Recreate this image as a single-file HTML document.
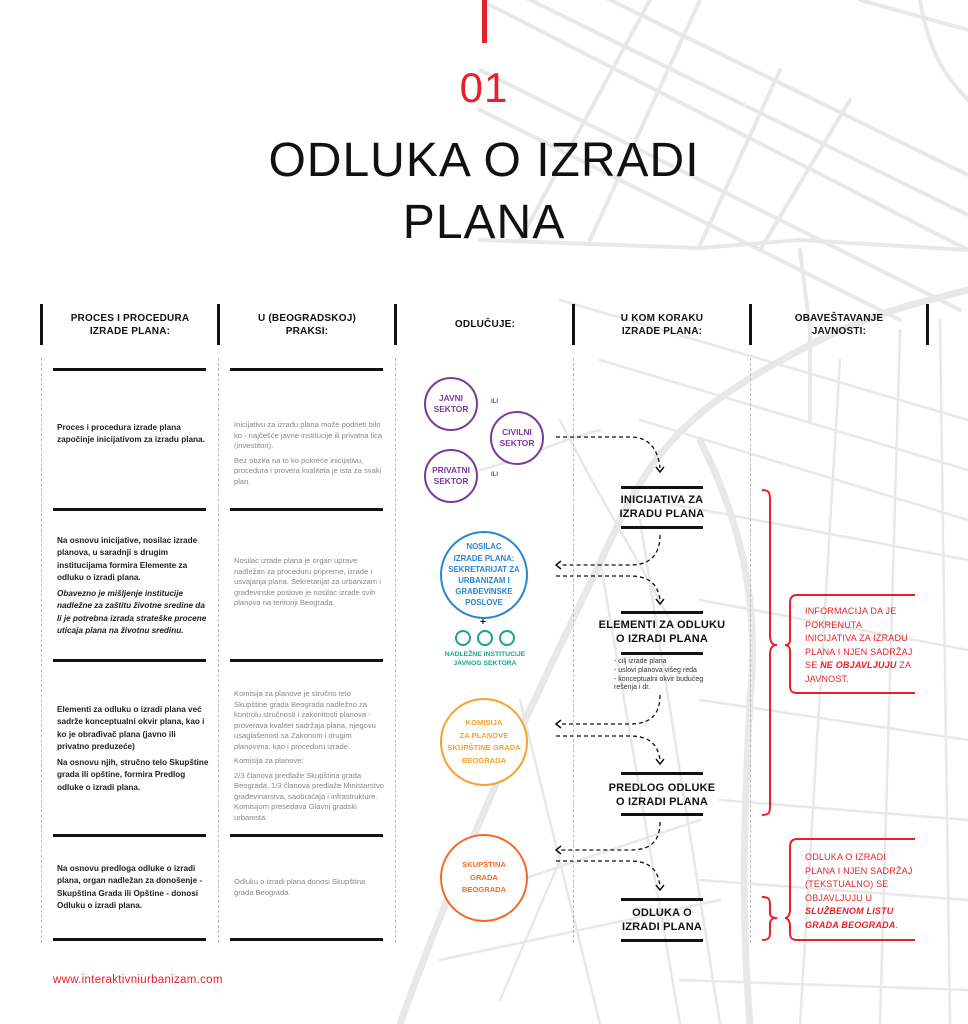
<!DOCTYPE html>
<html><head><meta charset="utf-8"><style>
*{margin:0;padding:0;box-sizing:border-box}
body{width:968px;height:1024px;position:relative;background:#fff;font-family:"Liberation Sans",sans-serif;overflow:hidden;color:#111}
.a{position:absolute}
.hd{position:absolute;font-size:10px;font-weight:bold;text-align:center;line-height:13px;letter-spacing:.2px}
.tick{position:absolute;width:3px;height:41px;top:304px;background:#111}
.dv{position:absolute;top:358px;height:585px;border-left:1px dashed #bbb}
.bar{position:absolute;height:3px;background:#111;width:153px}
.t1{position:absolute;left:57px;width:152px;font-size:8.2px;font-weight:bold;line-height:12.3px;color:#222}
.t2{position:absolute;left:234px;width:152px;font-size:7.6px;line-height:10.5px;color:#888}
.t1 p,.t2 p{margin-bottom:4px}
.fb{position:absolute;left:621px;width:82px;height:3px;background:#111}
.ft{position:absolute;left:590px;width:144px;text-align:center;font-size:11px;font-weight:bold;line-height:14px;letter-spacing:.2px}
.c{position:absolute;border-radius:50%;display:flex;align-items:center;justify-content:center;text-align:center;font-weight:bold;background:#fff}
.rt{position:absolute;color:#e8202a;font-size:9px;line-height:13.5px;letter-spacing:.2px}
</style></head><body>
<svg class="a" style="left:0;top:0" width="968" height="1024" viewBox="0 0 968 1024">
<g stroke="#e8e8e8" fill="none" stroke-linecap="round">
<g stroke-width="4">
<path d="M490 5 L968 250"/><path d="M480 70 L960 310"/><path d="M480 110 L900 320"/>
<path d="M520 -5 L968 215"/><path d="M600 -5 L968 175"/>
<path d="M480 240 L700 248 L800 240 L968 250"/>
<path d="M700 0 L590 240"/><path d="M780 70 L700 245"/><path d="M850 100 L760 250"/><path d="M650 0 L520 240"/><path d="M860 0 L968 30"/>
<path d="M920 0 C930 60 950 80 968 100"/>
<path d="M800 250 L810 330 L810 420"/>
</g>
<g stroke-width="7">
<path d="M400 1024 C480 800 560 650 620 520 C660 440 700 400 820 340 C880 310 930 300 968 290"/>
<path d="M700 440 C740 520 760 600 750 700 C745 800 740 900 750 1024"/>
</g>
<g stroke-width="2.5">
<path d="M560 300 L968 420"/><path d="M600 360 L968 470"/><path d="M640 420 L968 520"/>
<path d="M650 500 L968 560"/><path d="M700 600 L968 650"/><path d="M700 700 L968 740"/>
<path d="M720 800 L968 820"/><path d="M700 880 L968 900"/><path d="M680 980 L968 990"/>
<path d="M840 360 L800 1024"/><path d="M900 330 L880 1024"/><path d="M940 320 L950 1024"/>
<path d="M600 560 L680 1024"/><path d="M640 520 L720 1024"/><path d="M520 700 L600 1024"/>
<path d="M480 470 C520 460 560 440 600 430"/><path d="M560 420 C600 500 640 560 680 640"/>
<path d="M460 900 L700 820"/><path d="M440 960 L720 900"/><path d="M500 1000 L560 860"/>
</g>
</g>
<g stroke="#111" stroke-width="1.3" fill="none" stroke-dasharray="4 3">
<path d="M556 437 L630 437 C650 437 658 450 660 468"/>
<path d="M660 535 C660 555 650 565 630 565 L560 565"/>
<path d="M556 576 L630 576 C650 576 658 585 660 600"/>
<path d="M660 695 C660 715 650 724 630 724 L560 724"/>
<path d="M556 736 L630 736 C650 736 658 745 660 760"/>
<path d="M660 822 C660 842 650 850 630 850 L560 850"/>
<path d="M556 861 L630 861 C650 861 658 870 660 886"/>
</g>
<g stroke="#111" stroke-width="1.5" fill="none">
<path d="M656 467 L660 472 L664 467"/><path d="M656 599 L660 604 L664 599"/><path d="M656 759 L660 764 L664 759"/><path d="M656 885 L660 890 L664 885"/>
<path d="M561 561 L556 565 L561 569"/><path d="M561 720 L556 724 L561 728"/><path d="M561 846 L556 850 L561 854"/>
</g>
<g stroke="#e8202a" stroke-width="2" fill="none">
<path d="M762 490 C770 490 770 494 770 500 L770 635 C770 642 772 645 777 645 C772 645 770 648 770 655 L770 805 C770 812 770 815 762 815"/>
<path d="M915 595 L797 595 C792 595 790 598 790 603 L790 640 C790 644 788 645 785 645 C788 645 790 647 790 651 L790 686 C790 691 792 693 797 693 L915 693"/>
<path d="M762 897 C770 897 770 900 770 906 L770 913 C770 916 772 918 777 918 C772 918 770 920 770 924 L770 931 C770 937 770 940 762 940"/>
<path d="M915 839 L797 839 C792 839 790 842 790 847 L790 910 C790 914 788 918 785 918 C788 918 790 922 790 926 L790 933 C790 938 792 940 797 940 L915 940"/>
</g>
</svg>

<div class="a" style="left:482px;top:0;width:5px;height:43px;background:#e8202a"></div>
<div class="a" style="left:0;width:968px;top:64px;text-align:center;font-size:42px;color:#e8202a;letter-spacing:1px">01</div>
<div class="a" style="left:0;width:968px;top:130px;text-align:center;font-size:48px;line-height:62px;letter-spacing:1px">ODLUKA O IZRADI<br>PLANA</div>

<div class="tick" style="left:40px"></div><div class="tick" style="left:217px"></div><div class="tick" style="left:394px"></div><div class="tick" style="left:572px"></div><div class="tick" style="left:749px"></div><div class="tick" style="left:926px"></div>
<div class="hd" style="left:45px;width:170px;top:312px">PROCES I PROCEDURA<br>IZRADE PLANA:</div>
<div class="hd" style="left:222px;width:170px;top:312px">U (BEOGRADSKOJ)<br>PRAKSI:</div>
<div class="hd" style="left:399px;width:172px;top:318px">ODLUČUJE:</div>
<div class="hd" style="left:576px;width:172px;top:312px">U KOM KORAKU<br>IZRADE PLANA:</div>
<div class="hd" style="left:753px;width:172px;top:312px">OBAVEŠTAVANJE<br>JAVNOSTI:</div>

<div class="dv" style="left:41px"></div><div class="dv" style="left:218px"></div><div class="dv" style="left:395px"></div><div class="dv" style="left:573px"></div><div class="dv" style="left:750px"></div>

<div class="bar" style="left:53px;top:368px"></div><div class="bar" style="left:230px;top:368px"></div>
<div class="bar" style="left:53px;top:508px"></div><div class="bar" style="left:230px;top:508px"></div>
<div class="bar" style="left:53px;top:659px"></div><div class="bar" style="left:230px;top:659px"></div>
<div class="bar" style="left:53px;top:834px"></div><div class="bar" style="left:230px;top:834px"></div>
<div class="bar" style="left:53px;top:938px"></div><div class="bar" style="left:230px;top:938px"></div>

<div class="t1" style="top:422px">Proces i procedura izrade plana započinje inicijativom za izradu plana.</div>
<div class="t1" style="top:535px"><p>Na osnovu inicijative, nosilac izrade planova, u saradnji s drugim institucijama formira Elemente za odluku o izradi plana.</p><p style="font-style:italic">Obavezno je mišljenje institucije nadležne za zaštitu životne sredine da li je potrebna izrada strateške procene uticaja plana na životnu sredinu.</p></div>
<div class="t1" style="top:704px"><p>Elementi za odluku o izradi plana već sadrže konceptualni okvir plana, kao i ko je obrađivač plana (javno ili privatno preduzeće)</p><p>Na osnovu njih, stručno telo Skupštine grada ili opštine, formira Predlog odluke o izradi plana.</p></div>
<div class="t1" style="top:863px">Na osnovu predloga odluke o izradi plana, organ nadležan za donošenje - Skupština Grada ili Opštine - donosi Odluku o izradi plana.</div>

<div class="t2" style="top:420px"><p>Inicijativu za izradu plana može podneti bilo ko - najčešće javne institucije ili privatna lica (investitori).</p><p>Bez obzira na to ko pokreće inicijativu, procedura i provera kvaliteta je ista za svaki plan.</p></div>
<div class="t2" style="top:556px">Nosilac izrade plana je organ uprave nadležan za proceduru pripreme, izrade i usvajanja plana. Sekretarijat za urbanizam i građevinske poslove je nosilac izrade svih planova na teritoriji Beograda.</div>
<div class="t2" style="top:689px"><p>Komisija za planove je stručno telo Skupštine grada Beograda nadležno za kontrolu stručnosti i zakonitosti planova - proverava kvalitet sadržaja plana, njegovu usaglašenost sa Zakonom i drugim planovima, kao i proceduru izrade.</p><p>Komisija za planove:</p><p>2/3 članova predlaže Skupština grada Beograda, 1/3 članova predlaže Ministarstvo građevinarstva, saobraćaja i infrastrukture. Komisijom presedava Glavni gradski urbanista.</p></div>
<div class="t2" style="top:877px">Odluku o izradi plana donosi Skupština grada Beograda.</div>

<div class="c" style="left:424px;top:377px;width:54px;height:54px;border:2.5px solid #7b3aa0;color:#7b3aa0;font-size:8.4px;line-height:11px">JAVNI<br>SEKTOR</div>
<div class="c" style="left:490px;top:411px;width:54px;height:54px;border:2.5px solid #7b3aa0;color:#7b3aa0;font-size:8.4px;line-height:11px">CIVILNI<br>SEKTOR</div>
<div class="c" style="left:424px;top:449px;width:54px;height:54px;border:2.5px solid #7b3aa0;color:#7b3aa0;font-size:8.4px;line-height:11px">PRIVATNI<br>SEKTOR</div>
<div class="a" style="left:491px;top:399px;font-size:6px;font-weight:bold;color:#7b3aa0">ILI</div>
<div class="a" style="left:491px;top:472px;font-size:6px;font-weight:bold;color:#7b3aa0">ILI</div>

<div class="c" style="left:440px;top:531px;width:88px;height:88px;border:2.5px solid #2a84d2;color:#2a84d2;font-size:7.8px;line-height:11.2px">NOSILAC<br>IZRADE PLANA:<br>SEKRETARIJAT ZA<br>URBANIZAM I<br>GRAĐEVINSKE<br>POSLOVE</div>
<div class="a" style="left:480px;top:617px;font-size:10px;font-weight:bold">+</div>
<div class="c" style="left:455px;top:630px;width:16px;height:16px;border:2.5px solid #1aa38a"></div>
<div class="c" style="left:477px;top:630px;width:16px;height:16px;border:2.5px solid #1aa38a"></div>
<div class="c" style="left:499px;top:630px;width:16px;height:16px;border:2.5px solid #1aa38a"></div>
<div class="a" style="left:420px;width:130px;top:650px;text-align:center;font-size:6.8px;font-weight:bold;color:#1aa38a;line-height:9px">NADLEŽNE INSTITUCIJE<br>JAVNOG SEKTORA</div>

<div class="c" style="left:440px;top:698px;width:88px;height:88px;border:2.5px solid #f7a12b;color:#f7a12b;font-size:7.6px;line-height:12.5px">KOMISIJA<br>ZA PLANOVE<br>SKUPŠTINE GRADA<br>BEOGRADA</div>
<div class="c" style="left:440px;top:834px;width:88px;height:88px;border:2.5px solid #f26a2a;color:#f26a2a;font-size:7.6px;line-height:12.5px">SKUPŠTINA<br>GRADA<br>BEOGRADA</div>

<div class="fb" style="top:486px"></div><div class="ft" style="top:493px">INICIJATIVA ZA<br>IZRADU PLANA</div><div class="fb" style="top:526px"></div>
<div class="fb" style="top:611px"></div><div class="ft" style="top:618px">ELEMENTI ZA ODLUKU<br>O IZRADI PLANA</div><div class="fb" style="top:652px"></div>
<div class="a" style="left:614px;top:658px;font-size:7px;line-height:8.8px;color:#333">- cilj izrade plana<br>- uslovi planova višeg reda<br>- konceptualni okvir budućeg<br>rešenja i dr.</div>
<div class="fb" style="top:772px"></div><div class="ft" style="top:781px">PREDLOG ODLUKE<br>O IZRADI PLANA</div><div class="fb" style="top:813px"></div>
<div class="fb" style="top:898px"></div><div class="ft" style="top:906px">ODLUKA O<br>IZRADI PLANA</div><div class="fb" style="top:939px"></div>

<div class="rt" style="left:805px;top:605px">INFORMACIJA DA JE<br>POKRENUTA<br>INICIJATIVA ZA IZRADU<br>PLANA I NJEN SADRŽAJ<br>SE <b><i>NE OBJAVLJUJU</i></b> ZA<br>JAVNOST.</div>
<div class="rt" style="left:805px;top:851px">ODLUKA O IZRADI<br>PLANA I NJEN SADRŽAJ<br>(TEKSTUALNO) SE<br>OBJAVLJUJU U<br><b><i>SLUŽBENOM LISTU<br>GRADA BEOGRADA</i></b>.</div>

<div class="a" style="left:53px;top:974px;font-size:11.5px;color:#e8202a;letter-spacing:.3px">www.interaktivniurbanizam.com</div>
</body></html>
